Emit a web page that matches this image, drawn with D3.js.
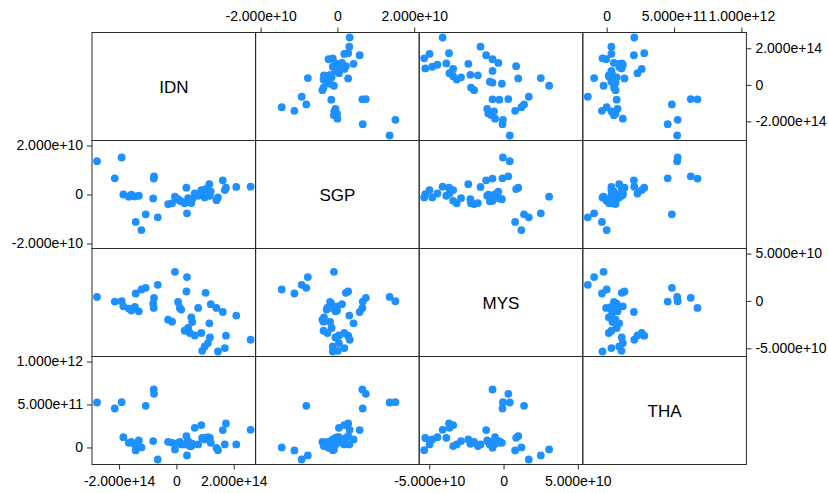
<!DOCTYPE html>
<html>
<head>
<meta charset="utf-8">
<script src="https://cdn.jsdelivr.net/npm/d3@7"></script>
<style>
  body { margin: 0; background: #fff; }
  svg { display: block; }
</style>
</head>
<body>
<div id="chart"></div>
<script>
// variáveis da matriz
const names = ["IDN", "SGP", "MYS", "THA"];

const idn = [-2.77e14, -2.15e14, -1.91e14, -1.85e14, -1.66e14, -1.57e14, -1.45e14, -1.31e14, -1.42e14, -1.22e14,
  -1.07e14, -0.81e14, -0.79e14, -0.78e14, -0.65e14, -0.29e14, -0.15e14, -0.05e14, 0.06e14, 0.12e14,
  0.17e14, 0.29e14, 0.35e14, 0.37e14, 0.41e14, 0.47e14, 0.52e14, 0.55e14, 0.64e14, 0.76e14,
  0.87e14, 0.90e14, 0.99e14, 1.02e14, 1.10e14, 1.15e14, 1.17e14, 1.20e14, 1.40e14, 1.45e14,
  1.62e14, 1.69e14, 1.73e14, 2.09e14, 2.59e14];

const sgp = [1.36e10, 0.66e10, 1.51e10, 0.00e10, -0.09e10, -0.01e10, -0.08e10, -0.05e10, -1.12e10, -1.45e10,
  -0.81e10, -0.16e10, 0.65e10, 0.74e10, -0.93e10, -0.39e10, -0.36e10, -0.09e10, -0.19e10, -0.26e10,
  -0.28e10, -0.36e10, 0.28e10, -0.77e10, -0.15e10, -0.26e10, -0.35e10, -0.19e10, 0.04e10, -0.05e10,
  0.18e10, 0.01e10, -0.12e10, 0.22e10, 0.04e10, 0.42e10, -0.05e10, 0.12e10, -0.23e10, -0.12e10,
  0.58e10, 0.18e10, 0.28e10, 0.31e10, 0.32e10];

const mys = [0.42e10, -0.07e10, -0.04e10, -0.57e10, -0.81e10, -1.02e10, -0.64e10, -1.10e10, 0.78e10, 1.20e10,
  1.38e10, -0.28e10, -0.74e10, 0.32e10, 1.70e10, -1.98e10, -2.19e10, 3.07e10, -0.11e10, -0.74e10,
  -0.92e10, -3.15e10, 0.99e10, 2.51e10, -2.86e10, -3.39e10, -1.73e10, -2.23e10, -3.64e10, -0.74e10,
  -3.39e10, -5.27e10, -4.80e10, 0.85e10, -4.45e10, -2.37e10, -3.85e10, -0.35e10, -0.74e10, -5.34e10,
  -1.17e10, -4.98e10, -3.67e10, -1.55e10, -4.10e10];

const tha = [5.23e11, 4.53e11, 5.27e11, 1.20e11, 0.54e11, 0.66e11, 0.35e11, 0.81e11, -0.35e11, 0.00e11,
  4.84e11, 0.74e11, 6.74e11, 6.24e11, -1.40e11, 0.66e11, 0.54e11, -0.23e11, 0.54e11, 0.66e11,
  0.35e11, 0.35e11, 1.32e11, -0.93e11, 0.74e11, 0.16e11, 0.16e11, 0.43e11, 2.29e11, 0.35e11,
  2.60e11, 1.10e11, 0.93e11, 1.12e11, 1.20e11, 0.93e11, 1.12e11, 0.54e11, -0.04e11, -0.31e11,
  2.02e11, 0.35e11, 2.79e11, 0.35e11, 2.05e11];

// marcas dos eixos
const ticksIDN = [-2e14, 0, 2e14];
const ticksSGP = [-2e10, 0, 2e10];
const ticksMYS = [-5e10, 0, 5e10];
const ticksTHA = [0, 5e11, 1e12];

const width = 828, height = 493;
const gridLeft = 92, gridTop = 32.5, cw = 163.6, ch = 108, pad = 5;
const n = names.length;

const cols = [idn, sgp, mys, tha];
const ticks = [ticksIDN, ticksSGP, ticksMYS, ticksTHA];
const rows = idn.map((_, i) => cols.map(c => c[i]));

// dominio = dados + marcas
const xs = cols.map((c, i) => d3.scaleLinear().domain(d3.extent(c.concat(ticks[i]))).range([pad, cw - pad]));
const ys = cols.map((c, i) => d3.scaleLinear().domain(d3.extent(c.concat(ticks[i]))).range([ch - pad, pad]));

const fmt = d => d === 0 ? "0" : d3.format(".3e")(d).replace("\u2212", "-");
const font = "'Liberation Sans', Arial, Helvetica, sans-serif";

const svg = d3.select("#chart").append("svg")
  .attr("width", width)
  .attr("height", height);

const grid = svg.append("g");

for (let r = 0; r < n; r++) {
  for (let c = 0; c < n; c++) {
    const cell = grid.append("g")
      .attr("transform", `translate(${gridLeft + c * cw},${gridTop + r * ch})`);

    if (r === c) {
      cell.append("text")
        .attr("x", cw / 2).attr("y", ch / 2 + 6)
        .attr("text-anchor", "middle")
        .style("font-family", font).style("font-size", "17px")
        .attr("fill", "#000")
        .text(names[r]);
    } else {
      cell.selectAll("circle")
        .data(rows)
        .join("circle")
        .attr("cx", d => xs[c](d[c]))
        .attr("cy", d => ys[r](d[r]))
        .attr("r", 3.9)
        .attr("fill", "#1E90FF");
    }

    cell.append("rect")
      .attr("width", cw).attr("height", ch)
      .attr("fill", "none")
      .attr("stroke", "#2b2b2b")
      .attr("stroke-width", 1);
  }
}

// eixos alternados
function styleAxis(g) {
  g.select(".domain").remove();
  g.selectAll("line").attr("stroke", "#2b2b2b");
  g.selectAll("text").attr("fill", "#000")
    .style("font-family", font).style("font-size", "14px");
}

[1, 3].forEach(c => {
  svg.append("g")
    .attr("transform", `translate(${gridLeft + c * cw},${gridTop})`)
    .call(d3.axisTop(xs[c]).tickValues(ticks[c]).tickFormat(fmt).tickSize(5).tickPadding(7).tickSizeOuter(0))
    .call(styleAxis);
});
[0, 2].forEach(c => {
  svg.append("g")
    .attr("transform", `translate(${gridLeft + c * cw},${gridTop + n * ch})`)
    .call(d3.axisBottom(xs[c]).tickValues(ticks[c]).tickFormat(fmt).tickSize(5).tickPadding(7).tickSizeOuter(0))
    .call(styleAxis);
});
[1, 3].forEach(r => {
  svg.append("g")
    .attr("transform", `translate(${gridLeft},${gridTop + r * ch})`)
    .call(d3.axisLeft(ys[r]).tickValues(ticks[r]).tickFormat(fmt).tickSize(5).tickPadding(4).tickSizeOuter(0))
    .call(styleAxis);
});
[0, 2].forEach(r => {
  svg.append("g")
    .attr("transform", `translate(${gridLeft + n * cw},${gridTop + r * ch})`)
    .call(d3.axisRight(ys[r]).tickValues(ticks[r]).tickFormat(fmt).tickSize(5).tickPadding(4).tickSizeOuter(0))
    .call(styleAxis);
});
</script>
</body>
</html>
